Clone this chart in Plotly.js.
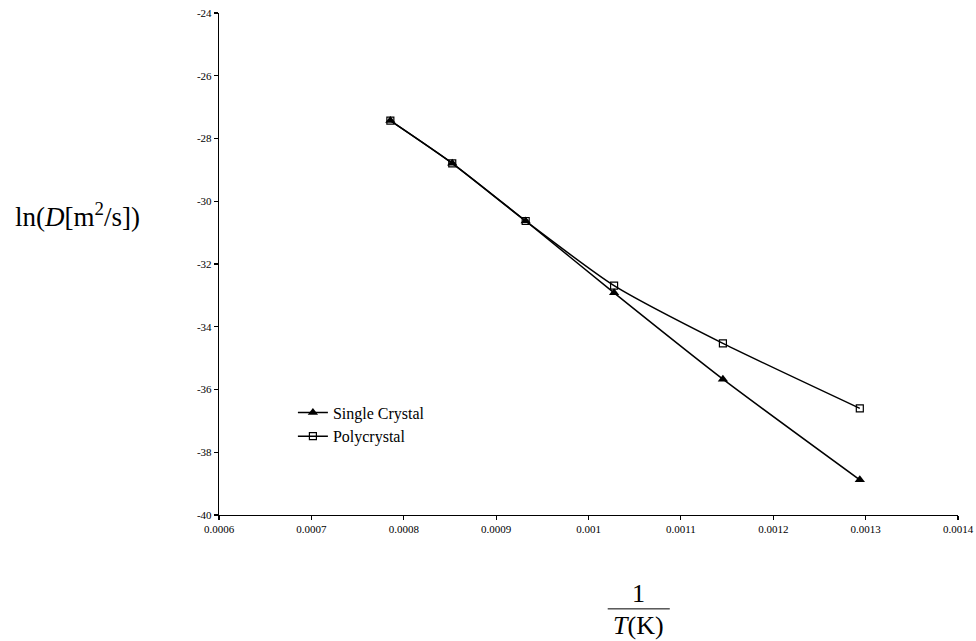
<!DOCTYPE html>
<html>
<head>
<meta charset="utf-8">
<script src="https://cdn.plot.ly/plotly-3.0.1.min.js"></script>
<style>html,body{margin:0;padding:0;background:#fff;}#chart{width:976px;height:641px;}</style>
</head>
<body>
<div id="chart"></div>
<script>
// 1/T (1/K)
const invT = [0.0007855, 0.0008525, 0.000932, 0.0010277, 0.0011455, 0.0012937];
// ln(D [m^2/s])
const singleCrystal = [-27.43, -28.79, -30.63, -32.92, -35.67, -38.88];
const polycrystal = [-27.43, -28.79, -30.63, -32.69, -34.53, -36.60];
const seriesNames = ["Single Crystal", "Polycrystal"];
const xTickVals = [0.0006, 0.0007, 0.0008, 0.0009, 0.001, 0.0011, 0.0012, 0.0013, 0.0014];
const xTickText = ["0.0006", "0.0007", "0.0008", "0.0009", "0.001", "0.0011", "0.0012", "0.0013", "0.0014"];
const yTickVals = [-40, -38, -36, -34, -32, -30, -28, -26, -24];
const yTickText = ["-40", "-38", "-36", "-34", "-32", "-30", "-28", "-26", "-24"];

const FONT = "Liberation Serif";

const traces = [
  {
    x: invT, y: singleCrystal, name: seriesNames[0], type: "scatter", mode: "lines+markers",
    line: {color: "#000", width: 1.5, shape: "spline", smoothing: 0.6},
    marker: {symbol: "triangle-up", size: 9, color: "#000"}
  },
  {
    x: invT, y: polycrystal, name: seriesNames[1], type: "scatter", mode: "lines+markers",
    line: {color: "#000", width: 1.5, shape: "spline", smoothing: 0.6},
    marker: {symbol: "square-open", size: 7, color: "#000", line: {width: 1.2}}
  }
];

const layout = {
  width: 976, height: 641,
  margin: {l: 219, r: 18, t: 13, b: 126},
  paper_bgcolor: "#fff", plot_bgcolor: "#fff",
  font: {family: FONT, color: "#000", size: 11},
  showlegend: true,
  legend: {
    x: 0.1, y: 0.238, xanchor: "left", yanchor: "top",
    bgcolor: "rgba(0,0,0,0)", font: {family: FONT, size: 16, color: "#000"},
    tracegroupgap: 0
  },
  xaxis: {
    range: [0.0006, 0.0014], tickmode: "array", tickvals: xTickVals, ticktext: xTickText,
    showgrid: false, zeroline: false, showline: true, linecolor: "#000", linewidth: 1.2,
    ticks: "outside", ticklen: 4, tickcolor: "#000", tickwidth: 1.2,
    tickfont: {family: FONT, size: 11, color: "#000"}
  },
  yaxis: {
    range: [-40, -24], tickmode: "array", tickvals: yTickVals, ticktext: yTickText,
    showgrid: false, zeroline: false, showline: true, linecolor: "#000", linewidth: 1.2,
    ticks: "outside", ticklen: 4, tickcolor: "#000", tickwidth: 1.2,
    tickfont: {family: FONT, size: 11, color: "#000"}
  },
  annotations: [
    {xref: "paper", yref: "paper", x: -0.191, y: 0.598, xanchor: "center", yanchor: "middle",
     text: "ln(<i>D</i>[m<sup>2</sup>/s])", showarrow: false, font: {family: FONT, size: 27, color: "#000"}},
    {xref: "paper", yref: "paper", x: 0.567, y: -0.157, xanchor: "center", yanchor: "middle",
     text: "1", showarrow: false, font: {family: FONT, size: 26, color: "#000"}},
    {xref: "paper", yref: "paper", x: 0.567, y: -0.221, xanchor: "center", yanchor: "middle",
     text: "<i>T</i>(K)", showarrow: false, font: {family: FONT, size: 26, color: "#000"}}
  ],
  shapes: [
    {type: "line", xref: "paper", yref: "paper", x0: 0.526, x1: 0.610, y0: -0.187, y1: -0.187,
     line: {color: "#000", width: 1}}
  ]
};

Plotly.newPlot("chart", traces, layout, {displayModeBar: false, staticPlot: true});
</script>
</body>
</html>
